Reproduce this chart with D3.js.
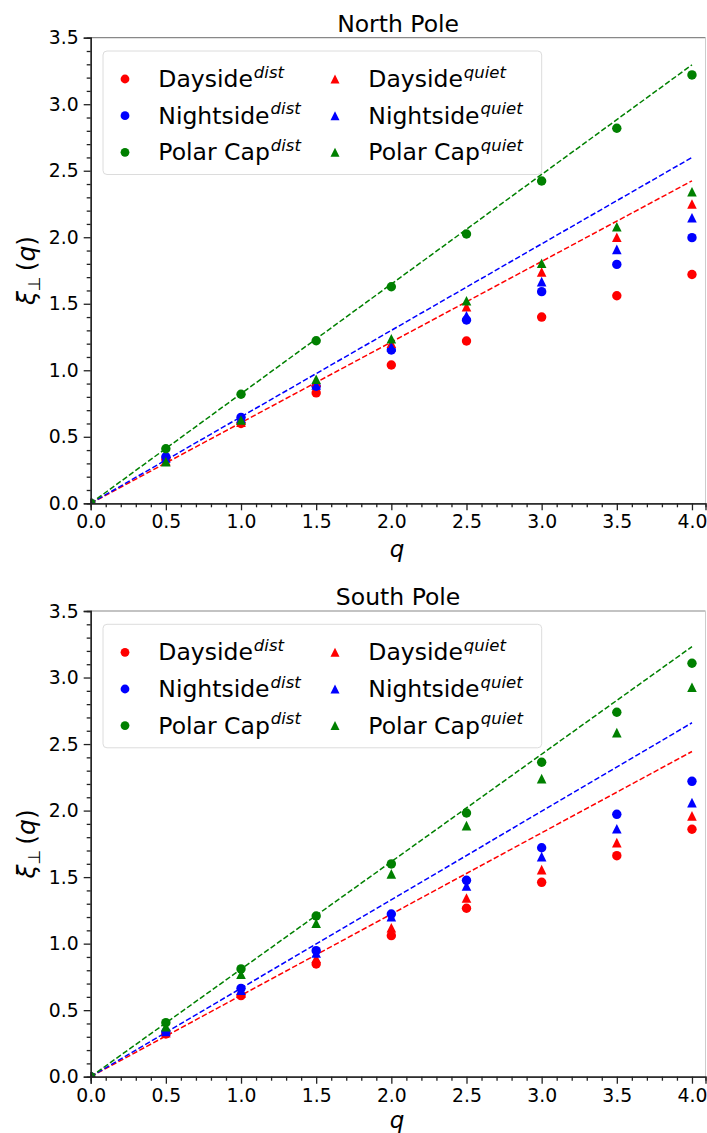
<!DOCTYPE html>
<html>
<head>
<meta charset="utf-8">
<script src="https://cdn.jsdelivr.net/npm/d3@7"></script>
<style>
  html, body { margin: 0; padding: 0; background: #fff; }
  svg { display: block; }
  text { font-family: "DejaVu Sans", sans-serif; fill: #000; }
</style>
</head>
<body>
<svg id="chart" width="707" height="1133"></svg>
<script>
// Moment order q and the scaling exponents xi_perp(q) per region
const qValues = [0, 0.5, 1.0, 1.5, 2.0, 2.5, 3.0, 3.5, 4.0];

const northDaysideDist   = [0, 0.33, 0.60, 0.83, 1.04, 1.22, 1.40, 1.56, 1.72];
const northNightsideDist = [0, 0.35, 0.646, 0.88, 1.152, 1.378, 1.591, 1.796, 1.997];
const northPolarCapDist  = [0, 0.41, 0.82, 1.222, 1.628, 2.024, 2.423, 2.819, 3.22];
const northDaysideQuiet   = [0, 0.32, 0.61, 0.914, 1.203, 1.478, 1.739, 2.0, 2.25];
const northNightsideQuiet = [0, 0.34, 0.64, 0.889, 1.177, 1.41, 1.666, 1.909, 2.147];
const northPolarCapQuiet  = [0, 0.313, 0.626, 0.932, 1.237, 1.523, 1.804, 2.079, 2.342];
// slopes of the linear reference lines: dayside, nightside, polar cap
const northFitSlopes = [0.606, 0.650, 0.824];

const southDaysideDist   = [0, 0.321, 0.609, 0.847, 1.06, 1.266, 1.461, 1.661, 1.86];
const southNightsideDist = [0, 0.338, 0.664, 0.947, 1.223, 1.476, 1.721, 1.972, 2.22];
const southPolarCapDist  = [0, 0.406, 0.81, 1.208, 1.599, 1.982, 2.363, 2.739, 3.107];
const southDaysideQuiet   = [0, 0.33, 0.63, 0.89, 1.12, 1.343, 1.556, 1.759, 1.96];
const southNightsideQuiet = [0, 0.34, 0.65, 0.93, 1.203, 1.433, 1.654, 1.864, 2.06];
const southPolarCapQuiet  = [0, 0.376, 0.77, 1.153, 1.524, 1.887, 2.24, 2.586, 2.927];
const southFitSlopes = [0.611, 0.665, 0.808];

const regionNames = ["Dayside", "Nightside", "Polar Cap"];
const regionColors = ["#ff0000", "#0000ff", "#008000"];
const xTicks = [0, 0.5, 1.0, 1.5, 2.0, 2.5, 3.0, 3.5, 4.0];
const yTicks = [0, 0.5, 1.0, 1.5, 2.0, 2.5, 3.0, 3.5];

const panels = [
  { title: "North Pole", top: 37.7, bottom: 503.3,
    dist: [northDaysideDist, northNightsideDist, northPolarCapDist],
    quiet: [northDaysideQuiet, northNightsideQuiet, northPolarCapQuiet],
    slopes: northFitSlopes },
  { title: "South Pole", top: 611, bottom: 1076.7,
    dist: [southDaysideDist, southNightsideDist, southPolarCapDist],
    quiet: [southDaysideQuiet, southNightsideQuiet, southPolarCapQuiet],
    slopes: southFitSlopes }
];

const svg = d3.select("#chart");
const left = 90.7, right = 705.5;

function triPath(cx, cy, s) {
  const h = s / 2;
  return `M${cx},${cy - h}L${cx + h},${cy + h}L${cx - h},${cy + h}Z`;
}

panels.forEach((p, pi) => {
  const x = d3.scaleLinear().domain([0, 4.09]).range([left, right]);
  const y = d3.scaleLinear().domain([0, 3.5]).range([p.bottom, p.top]);
  const g = svg.append("g");

  const clipId = "clip" + pi;
  svg.append("clipPath").attr("id", clipId)
    .append("rect").attr("x", left).attr("y", p.top)
    .attr("width", right - left).attr("height", p.bottom - p.top);

  // title
  g.append("text").attr("x", (left + right) / 2).attr("y", p.top - 6)
    .attr("text-anchor", "middle").style("font-size", "23.5px").text(p.title);

  const plot = g.append("g").attr("clip-path", `url(#${clipId})`);

  // dashed linear reference lines through the origin
  p.slopes.forEach((s, i) => {
    plot.append("line")
      .attr("x1", x(0)).attr("y1", y(0))
      .attr("x2", x(4)).attr("y2", y(s * 4))
      .attr("stroke", regionColors[i]).attr("stroke-width", 1.5)
      .attr("stroke-dasharray", "5.5,2.4");
  });

  // disturbed conditions: circles
  p.dist.forEach((vals, i) => {
    plot.selectAll(null).data(vals).enter().append("circle")
      .attr("cx", (d, k) => x(qValues[k])).attr("cy", d => y(d))
      .attr("r", 4.7).attr("fill", regionColors[i]);
  });
  // quiet conditions: triangles
  p.quiet.forEach((vals, i) => {
    plot.selectAll(null).data(vals).enter().append("path")
      .attr("d", (d, k) => triPath(x(qValues[k]), y(d), 9.6))
      .attr("fill", regionColors[i]);
  });

  // spines
  g.append("line").attr("x1", left).attr("x2", right).attr("y1", p.top).attr("y2", p.top)
    .attr("stroke", "#888").attr("stroke-width", 1.2);
  g.append("line").attr("x1", right).attr("x2", right).attr("y1", p.top).attr("y2", p.bottom)
    .attr("stroke", "#ccc").attr("stroke-width", 1);

  // axes
  const tickFont = "18.8px";
  const xAxis = d3.axisBottom(x).tickValues(xTicks).tickFormat(d3.format(".1f"))
    .tickSize(7).tickPadding(4.5);
  const xMinor = d3.axisBottom(x).tickValues(d3.range(0, 41).map(v => v / 10).filter(v => Math.round(v * 10) % 5 !== 0))
    .tickSize(4).tickFormat("");
  const yAxis = d3.axisLeft(y).tickValues(yTicks).tickFormat(d3.format(".1f"))
    .tickSize(7).tickPadding(5);
  const yMinor = d3.axisLeft(y).tickValues(d3.range(0, 36).map(v => v / 10).filter(v => Math.round(v * 10) % 5 !== 0))
    .tickSize(4).tickFormat("");

  [xMinor, xAxis].forEach(a => {
    g.append("g").attr("transform", `translate(0,${p.bottom})`).call(a)
      .call(s => s.select(".domain").attr("stroke", "#222").attr("stroke-width", 1.3))
      .call(s => s.selectAll(".tick line").attr("stroke", "#222").attr("stroke-width", 1.3))
      .call(s => s.selectAll(".tick text").style("font-size", tickFont).style("font-family", "DejaVu Sans").attr("fill", "#000"));
  });
  [yMinor, yAxis].forEach(a => {
    g.append("g").attr("transform", `translate(${left},0)`).call(a)
      .call(s => s.select(".domain").attr("stroke", "#222").attr("stroke-width", 1.3))
      .call(s => s.selectAll(".tick line").attr("stroke", "#222").attr("stroke-width", 1.3))
      .call(s => s.selectAll(".tick text").style("font-size", tickFont).style("font-family", "DejaVu Sans").attr("fill", "#000"));
  });

  // axis labels (the lower one is kept inside the page bottom)
  g.append("text").attr("x", (left + right) / 2 - 1).attr("y", Math.min(p.bottom + 54, 1127.8))
    .attr("text-anchor", "middle").style("font-size", "23px").style("font-style", "italic").text("q");

  const yl = g.append("text")
    .attr("transform", `translate(35,${(p.top + p.bottom) / 2}) rotate(-90)`)
    .attr("text-anchor", "middle").style("font-size", "25px");
  yl.append("tspan").style("font-style", "italic").text("ξ");
  yl.append("tspan").attr("dy", 5).style("font-size", "17px").text("⊥");
  yl.append("tspan").attr("dy", -5).attr("dx", 5).text("(");
  yl.append("tspan").style("font-style", "italic").text("q");
  yl.append("tspan").text(")");

  // legend
  const lx = 103, ly = p.top + 13.3;
  const leg = g.append("g");
  leg.append("rect").attr("x", lx).attr("y", ly).attr("width", 438.7).attr("height", 123.5)
    .attr("rx", 4).attr("fill", "#fff").attr("fill-opacity", 0.85)
    .attr("stroke", "#dcdcdc").attr("stroke-width", 1);
  const rowY = [28, 64.7, 101.3];
  const cols = [
    { mx: 125, tx: 158.3, sup: "dist", mark: "circle" },
    { mx: 335, tx: 368.3, sup: "quiet", mark: "tri" }
  ];
  cols.forEach(c => {
    regionNames.forEach((name, i) => {
      const cy = ly + rowY[i];
      if (c.mark === "circle") {
        leg.append("circle").attr("cx", c.mx).attr("cy", cy).attr("r", 4.4).attr("fill", regionColors[i]);
      } else {
        leg.append("path").attr("d", triPath(c.mx, cy, 9)).attr("fill", regionColors[i]);
      }
      const t = leg.append("text").attr("x", c.tx).attr("y", cy + 8).style("font-size", "23.5px");
      t.append("tspan").text(name);
      t.append("tspan").attr("dy", -9.5).attr("dx", 1).style("font-size", "16.5px").style("font-style", "italic").text(c.sup);
    });
  });
});
</script>
</body>
</html>
